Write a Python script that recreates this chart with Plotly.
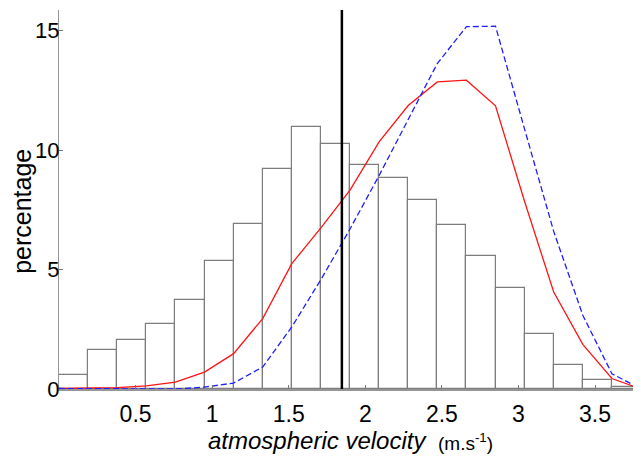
import plotly.graph_objects as go

# ---- data ----
bin_edges = [round(0.19 * i, 2) for i in range(21)]
bin_width = 0.19
hist_pct = [0.59, 1.65, 2.04, 2.71, 3.74, 5.34, 6.93, 9.23, 10.99, 10.24,
            9.36, 8.84, 7.93, 6.85, 5.59, 4.21, 2.30, 1.02, 0.39, 0.08]
red_pct = [0.02, 0.03, 0.06, 0.13, 0.29, 0.71, 1.48, 2.95, 5.25, 6.75,
           8.33, 10.35, 11.87, 12.86, 12.93, 11.86, 7.85, 4.06, 1.87, 0.44, 0.0]
blue_pct = [0.02, 0.01, 0.0, 0.0, 0.0, 0.08, 0.25, 0.92, 2.60, 4.58,
            6.70, 8.94, 11.30, 13.63, 15.17, 15.19, 10.88, 6.60, 3.09, 0.64, 0.0]
threshold = 1.847
x_ticks = [0.5, 1, 1.5, 2, 2.5, 3, 3.5]
x_ticklabels = ["0.5", "1", "1.5", "2", "2.5", "3", "3.5"]
y_ticks = [0, 5, 10, 15]
x_range = [0, 3.8]
y_range = [0, 15.87]

bin_centers = [bin_edges[i] + bin_width / 2 for i in range(len(hist_pct))]

FONT = "Liberation Sans, Arial, sans-serif"

fig = go.Figure()
fig.add_trace(go.Bar(
    x=bin_centers, y=hist_pct, width=bin_width,
    marker=dict(color="white", line=dict(color="rgb(125,125,125)", width=1.2)),
    showlegend=False, hoverinfo="skip"))
fig.add_trace(go.Scatter(
    x=bin_edges, y=red_pct, mode="lines",
    line=dict(color="rgb(255,20,20)", width=1.3), showlegend=False))
fig.add_trace(go.Scatter(
    x=bin_edges, y=blue_pct, mode="lines",
    line=dict(color="rgb(30,30,255)", width=1.3, dash="6px,3px"), showlegend=False))

fig.add_vline(x=threshold, line=dict(color="black", width=2.5))

fig.add_annotation(
    text="<i>atmospheric velocity</i>", xref="paper", yref="paper",
    x=0.2526, y=-0.137, xanchor="left", yanchor="middle", showarrow=False,
    font=dict(family=FONT, size=24, color="black"))
fig.add_annotation(
    text="(m.s<sup>-1</sup>)", xref="paper", yref="paper",
    x=0.647, y=-0.14, xanchor="left", yanchor="middle", showarrow=False,
    font=dict(family=FONT, size=19, color="black"))
fig.add_annotation(
    text="percentage", xref="paper", yref="paper", textangle=-90,
    x=-0.0636, y=0.47, xanchor="center", yanchor="middle", showarrow=False,
    font=dict(family=FONT, size=25, color="black"))

fig.update_layout(
    width=633, height=453,
    margin=dict(l=51, r=0, t=2, b=72),
    paper_bgcolor="white", plot_bgcolor="white",
    bargap=0,
    font=dict(family=FONT, color="black"),
    xaxis=dict(range=x_range, tickvals=x_ticks, ticktext=x_ticklabels,
               ticks="inside", ticklen=4, tickcolor="rgb(120,120,120)",
               showline=True, linecolor="rgb(150,150,150)", linewidth=1.5,
               showgrid=False, zeroline=False, automargin=False,
               tickfont=dict(family=FONT, size=23, color="black"),
               ticklabelstandoff=4),
    yaxis=dict(range=y_range, tickvals=y_ticks,
               ticks="inside", ticklen=4, tickcolor="rgb(120,120,120)",
               showline=True, linecolor="rgb(150,150,150)", linewidth=1,
               showgrid=False, zeroline=False, automargin=False,
               tickfont=dict(family=FONT, size=22, color="black"),
               ticklabelstandoff=-6),
)

fig.write_html("out.html")
